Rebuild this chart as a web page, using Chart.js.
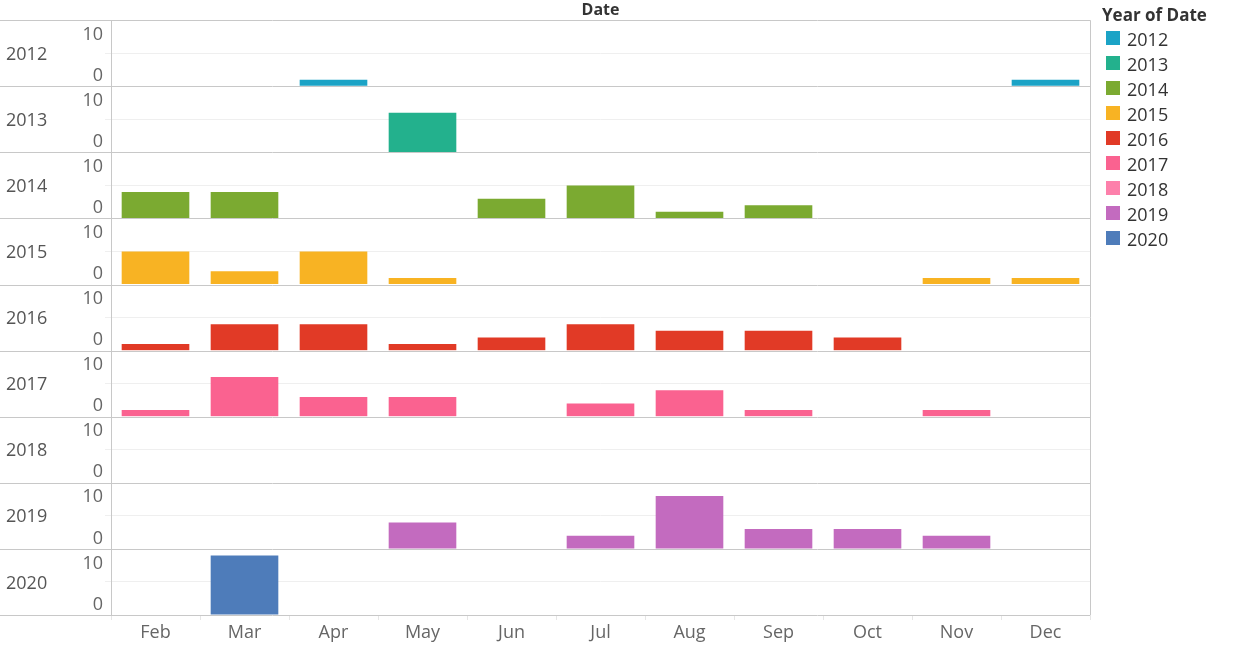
<!DOCTYPE html>
<html>
<head>
<meta charset="utf-8">
<script src="https://cdn.jsdelivr.net/npm/chart.js@4"></script>
<style>
  html, body { margin: 0; padding: 0; background: #fff; }
  #wrap { width: 1241px; height: 645px; }
</style>
</head>
<body>
<div id="wrap"><canvas id="chart" width="1241" height="645"></canvas></div>
<script>
// Datos (conteo por mes y año)
const months = ['Feb', 'Mar', 'Apr', 'May', 'Jun', 'Jul', 'Aug', 'Sep', 'Oct', 'Nov', 'Dec'];
const years = ['2012', '2013', '2014', '2015', '2016', '2017', '2018', '2019', '2020'];
const counts2012 = [null, null, 1, null, null, null, null, null, null, null, 1];
const counts2013 = [null, null, null, 6, null, null, null, null, null, null, null];
const counts2014 = [4, 4, null, null, 3, 5, 1, 2, null, null, null];
const counts2015 = [5, 2, 5, 1, null, null, null, null, null, 1, 1];
const counts2016 = [1, 4, 4, 1, 2, 4, 3, 3, 2, null, null];
const counts2017 = [1, 6, 3, 3, null, 2, 4, 1, null, 1, null];
const counts2018 = [null, null, null, null, null, null, null, null, null, null, null];
const counts2019 = [null, null, null, 4, null, 2, 8, 3, 3, 2, null];
const counts2020 = [null, 9, null, null, null, null, null, null, null, null, null];
const yTickLabels = ['0', '10'];
const yearColors = ['#1BA3C6', '#23B18D', '#7BAA31', '#F8B323', '#E13A26', '#FA6290', '#FD80AB', '#C36BBF', '#4E7CBA'];

const allCounts = [counts2012, counts2013, counts2014, counts2015, counts2016, counts2017, counts2018, counts2019, counts2020];

const FONT = "'Open Sans', 'DejaVu Sans', sans-serif";
Chart.defaults.font.family = FONT;

const datasets = years.map((yr, i) => ({
    label: yr,
    data: allCounts[i],
    yAxisID: 'y' + yr,
    backgroundColor: yearColors[i],
    grouped: false,
    barPercentage: 0.76,
    categoryPercentage: 1
}));

// Ejes: x compartido y un eje y por año, apilados (el ultimo definido queda arriba)
const scales = {
    x: {
        type: 'category',
        offset: true,
        grid: { drawOnChartArea: false, color: '#e6e6e6', tickLength: 5 },
        border: { display: false },
        ticks: { color: '#666', font: { size: 18 }, padding: 2, maxRotation: 0, autoSkip: false },
        afterFit: (s) => { s.height = 30; }
    }
};
[...years].reverse().forEach(yr => {
    scales['y' + yr] = {
        axis: 'y',
        type: 'linear',
        position: 'left',
        stack: 'rows',
        stackWeight: 1,
        min: 0,
        max: 10,
        afterBuildTicks: (s) => { s.ticks = [{ value: 0 }, { value: 5 }, { value: 10 }]; },
        afterFit: (s) => { s.width = 111; },
        ticks: { display: false },
        grid: {
            color: (c) => (c.tick && c.tick.value === 5) ? '#efefef' : 'rgba(0,0,0,0)',
            tickLength: 6
        },
        border: { color: '#c8c8c8' }
    };
});

// Marco, etiquetas de filas y leyenda
const decoraciones = {
    id: 'decoraciones',
    afterDatasetsDraw(chart) {
        const ctx = chart.ctx;
        const area = chart.chartArea;
        ctx.save();
        ctx.strokeStyle = '#c8c8c8';
        ctx.lineWidth = 1;
        ctx.beginPath();
        ctx.moveTo(0, Math.round(area.top) + 0.5);
        ctx.lineTo(area.right, Math.round(area.top) + 0.5);
        years.forEach(yr => {
            const s = chart.scales['y' + yr];
            const yb = Math.round(s.getPixelForValue(0)) + 0.5;
            ctx.moveTo(0, yb);
            ctx.lineTo(area.right, yb);
        });
        ctx.moveTo(Math.round(area.right) + 0.5, area.top);
        ctx.lineTo(Math.round(area.right) + 0.5, area.bottom);
        ctx.stroke();

        ctx.font = '18px ' + FONT;
        ctx.textBaseline = 'middle';
        years.forEach(yr => {
            const s = chart.scales['y' + yr];
            ctx.fillStyle = '#555';
            ctx.textAlign = 'left';
            ctx.fillText(yr, 6, (s.top + s.bottom) / 2 + 1.5);
            ctx.fillStyle = '#666';
            ctx.textAlign = 'right';
            ctx.fillText(yTickLabels[1], 103, s.getPixelForValue(10) + 14.5);
            ctx.fillText(yTickLabels[0], 103, s.getPixelForValue(0) - 10.5);
        });

        // leyenda
        ctx.textAlign = 'left';
        ctx.fillStyle = '#333';
        ctx.font = 'bold 17px ' + FONT;
        ctx.fillText('Year of Date', 1102, 16.5);
        ctx.font = '18px ' + FONT;
        chart.data.datasets.forEach((ds, i) => {
            const y = 39 + i * 25;
            ctx.fillStyle = ds.backgroundColor;
            ctx.fillRect(1106, y - 8, 14, 14);
            ctx.fillStyle = '#333';
            ctx.fillText(ds.label, 1127, y + 1.5);
        });
        ctx.restore();
    }
};

const chart = new Chart(document.getElementById('chart'), {
    type: 'bar',
    data: { labels: months, datasets: datasets },
    options: {
        responsive: false,
        animation: false,
        layout: { padding: { left: 0, right: 151, top: 0, bottom: 0 } },
        scales: scales,
        plugins: {
            legend: { display: false },
            tooltip: { enabled: false },
            title: {
                display: true,
                text: 'Date',
                fullSize: false,
                color: '#333',
                font: { size: 16, weight: 'bold' },
                padding: { top: 1, bottom: 0 }
            }
        }
    },
    plugins: [decoraciones]
});
</script>
</body>
</html>
